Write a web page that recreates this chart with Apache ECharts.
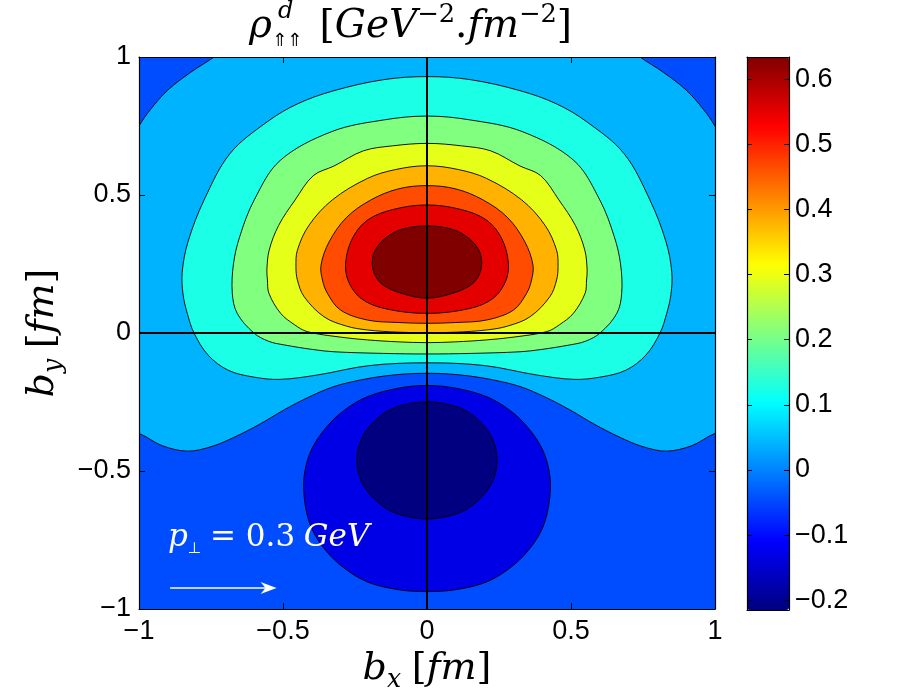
<!DOCTYPE html>
<html>
<head>
<meta charset="utf-8">
<script src="https://cdn.jsdelivr.net/npm/echarts@6/dist/echarts.min.js"></script>
<style>html,body{margin:0;padding:0;background:#fff;}#c{width:909px;height:700px;}</style>
</head>
<body>
<div id="c"></div>
<script>
// ---- data (symmetric in b_x; right half listed, x = 0 top -> x = 0 bottom) ----
const xRange = [-1, 1];
const yRange = [-1, 1];
const xTicks = [-1, -0.5, 0, 0.5, 1];
const yTicks = [-1, -0.5, 0, 0.5, 1];
const cbarRange = [-0.215, 0.634];
const cbarTicks = [-0.2, -0.1, 0, 0.1, 0.2, 0.3, 0.4, 0.5, 0.6];
// contour level values (band colour = lower level)
const levels = [-0.215, -0.130, -0.045, 0.040, 0.125, 0.210, 0.295, 0.380, 0.465, 0.550, 0.634];

const skyHalf = [[0,1.3],[0.4,1.22],[0.62,1.1],[0.74,1.0],[0.82,0.945],[0.9,0.88],[0.96,0.81],[1.0,0.75],[1.08,0.6],[1.15,0.35],[1.15,-0.32],[1.0,-0.364],[0.92,-0.408],[0.832,-0.428],[0.75,-0.412],[0.67,-0.378],[0.58,-0.33],[0.497,-0.279],[0.41,-0.232],[0.323,-0.194],[0.23,-0.17],[0.149,-0.156],[0.07,-0.148],[0,-0.146]];
const aquaHalf = [[0,0.929],[0.15,0.918],[0.323,0.878],[0.45,0.83],[0.555,0.765],[0.684,0.65],[0.774,0.482],[0.83,0.33],[0.85,0.22],[0.847,0.14],[0.832,0.07],[0.809,0],[0.76,-0.08],[0.69,-0.135],[0.6,-0.16],[0.51,-0.168],[0.38,-0.152],[0.2,-0.118],[0,-0.108]];
const greenHalf = [[0,0.786],[0.15,0.772],[0.33,0.73],[0.51,0.625],[0.6,0.482],[0.65,0.35],[0.672,0.25],[0.676,0.144],[0.659,0.071],[0.601,0],[0.55,-0.03],[0.497,-0.043],[0.395,-0.06],[0.323,-0.068],[0.15,-0.074],[0,-0.076]];
const yellowHalf = [[0,0.687],[0.12,0.678],[0.221,0.66],[0.323,0.605],[0.395,0.57],[0.458,0.482],[0.515,0.39],[0.548,0.3],[0.556,0.228],[0.554,0.192],[0.549,0.144],[0.508,0.071],[0.46,0.03],[0.416,0.005],[0.3,-0.015],[0.207,-0.025],[0.1,-0.032],[0,-0.035]];
const orangeHalf = [[0,0.606],[0.11,0.592],[0.207,0.56],[0.329,0.482],[0.41,0.39],[0.45,0.3],[0.455,0.24],[0.45,0.192],[0.427,0.132],[0.358,0.059],[0.28,0.025],[0.207,0.011],[0.1,0.003],[0,0.001]];
const orangeRedHalf = [[0,0.534],[0.1,0.522],[0.195,0.482],[0.28,0.418],[0.34,0.33],[0.368,0.246],[0.363,0.192],[0.346,0.144],[0.3,0.083],[0.207,0.047],[0.1,0.038],[0,0.035]];
const redHalf = [[0,0.464],[0.12,0.447],[0.207,0.409],[0.258,0.345],[0.282,0.26],[0.274,0.19],[0.23,0.126],[0.149,0.089],[0,0.071]];
const darkRedHalf = [[0,0.388],[0.09,0.375],[0.149,0.34],[0.18,0.3],[0.19,0.257],[0.182,0.213],[0.155,0.176],[0.095,0.146],[0,0.126]];
const midBlueHalf = [[0,-0.19],[0.1,-0.2],[0.21,-0.232],[0.29,-0.282],[0.35,-0.342],[0.4,-0.42],[0.424,-0.5],[0.428,-0.57],[0.418,-0.65],[0.395,-0.72],[0.35,-0.79],[0.29,-0.85],[0.207,-0.902],[0.1,-0.93],[0,-0.937]];
const navyHalf = [[0,-0.249],[0.1,-0.266],[0.155,-0.295],[0.207,-0.348],[0.235,-0.405],[0.243,-0.46],[0.235,-0.518],[0.207,-0.573],[0.155,-0.626],[0.1,-0.656],[0,-0.674]];
const arrowFrom = [-0.892, -0.924];
const arrowTo = [-0.55, -0.924];

// ---- build polygons ----
function fullLoop(half) {
  const left = half.slice(1, -1).reverse().map(p => [-p[0], p[1]]);
  return half.concat(left);
}
const pad = 0.3;
const frame = [[xRange[0]-pad, yRange[0]-pad],[xRange[1]+pad, yRange[0]-pad],[xRange[1]+pad, yRange[1]+pad],[xRange[0]-pad, yRange[1]+pad]];
const regions = [
  {poly: frame, level: levels[2], smooth: 0, stroke: false},
  {poly: fullLoop(skyHalf), level: levels[3]},
  {poly: fullLoop(aquaHalf), level: levels[4]},
  {poly: fullLoop(greenHalf), level: levels[5]},
  {poly: fullLoop(yellowHalf), level: levels[6]},
  {poly: fullLoop(orangeHalf), level: levels[7]},
  {poly: fullLoop(orangeRedHalf), level: levels[8]},
  {poly: fullLoop(redHalf), level: levels[9]},
  {poly: fullLoop(darkRedHalf), level: levels[10]},
  {poly: fullLoop(midBlueHalf), level: levels[1]},
  {poly: fullLoop(navyHalf), level: levels[0]}
];

const jet = ['#000080','#0000ff','#0080ff','#00ffff','#80ff80','#ffff00','#ff8000','#ff0000','#800000'];
const sansFont = 'Liberation Sans';
const serif = 'DejaVu Serif';
const fmt = v => (v === 0 ? '0' : String(v).replace('-', '\u2212'));

const mathRich = (size, color) => ({
  it: {fontFamily: serif, fontStyle: 'italic', fontSize: size, color: color, fill: color, lineHeight: size*1.25, verticalAlign: 'middle'},
  n: {fontFamily: serif, fontSize: size, color: color, fill: color, lineHeight: size*1.25, verticalAlign: 'middle'},
  sp: {fontFamily: serif, fontSize: size, color: color, fill: color, lineHeight: size*1.25, width: size*0.28},
  sp2: {fontFamily: serif, fontSize: size, color: color, fill: color, lineHeight: size*1.25, width: size*0.45},
  supn: {fontFamily: serif, fontSize: size*0.66, color: color, fill: color, lineHeight: size*0.62, verticalAlign: 'top'},
  sub: {fontFamily: serif, fontStyle: 'italic', fontSize: size*0.66, color: color, fill: color, lineHeight: size*0.45, verticalAlign: 'bottom'},
  subn: {fontFamily: 'DejaVu Sans', fontSize: size*0.5, color: color, fill: color, lineHeight: size*0.45, verticalAlign: 'bottom'},
  subs: {fontFamily: 'DejaVu Sans', fontSize: size*0.46, color: color, fill: color, lineHeight: size*0.5, verticalAlign: 'bottom'}
});

const axisLineStyle = {lineStyle: {color: '#000', width: 1.2}, onZero: false};
const inTick = {inside: true, length: 6, lineStyle: {color: '#000'}};
const tickLabel = {fontFamily: sansFont, fontSize: 27, color: '#000'};
const arrowHead = 'path://M5,0 L10,13 L5,9 L0,13 Z';

const chart = echarts.init(document.getElementById('c'), null, {renderer: 'canvas'});
const option = {
  animation: false,
  backgroundColor: '#fff',
  grid: [
    {left: 139, top: 57, width: 576, height: 552, show: false, containLabel: false, outerBoundsMode: 'none'},
    {left: 747, top: 57, width: 42, height: 553, show: false, containLabel: false, outerBoundsMode: 'none'}
  ],
  xAxis: [
    {gridIndex: 0, type: 'value', min: xRange[0], max: xRange[1], interval: 0.5, position: 'bottom', z: 10,
     axisLine: axisLineStyle, axisTick: inTick,
     axisLabel: Object.assign({formatter: fmt, margin: 9, customValues: xTicks}, tickLabel), splitLine: {show: false},
     name: '{it|b}{sub|x}{sp| }{n|[}{it|fm}{n|]}', nameLocation: 'middle', nameGap: 36,
     nameTextStyle: {rich: mathRich(38, '#000')}},
    {gridIndex: 0, type: 'value', min: xRange[0], max: xRange[1], interval: 0.5, position: 'top', z: 10,
     axisLine: axisLineStyle, axisTick: inTick, axisLabel: {show: false}, splitLine: {show: false}},
    {gridIndex: 1, type: 'value', min: 0, max: 1, position: 'bottom', z: 10,
     axisLine: axisLineStyle, axisTick: {show: false}, axisLabel: {show: false}, splitLine: {show: false}},
    {gridIndex: 1, type: 'value', min: 0, max: 1, position: 'top', z: 10,
     axisLine: axisLineStyle, axisTick: {show: false}, axisLabel: {show: false}, splitLine: {show: false}}
  ],
  yAxis: [
    {gridIndex: 0, type: 'value', min: yRange[0], max: yRange[1], interval: 0.5, position: 'left', z: 10,
     axisLine: axisLineStyle, axisTick: inTick,
     axisLabel: Object.assign({formatter: fmt, margin: 8, customValues: yTicks}, tickLabel), splitLine: {show: false},
     name: '{it|b}{sub|y}{sp| }{n|[}{it|fm}{n|]}', nameLocation: 'middle', nameGap: 72,
     nameTextStyle: {rich: mathRich(38, '#000')}},
    {gridIndex: 0, type: 'value', min: yRange[0], max: yRange[1], interval: 0.5, position: 'right', z: 10,
     axisLine: axisLineStyle, axisTick: inTick, axisLabel: {show: false}, splitLine: {show: false}},
    {gridIndex: 1, type: 'value', min: cbarRange[0], max: cbarRange[1], position: 'right', z: 10,
     axisLine: axisLineStyle,
     axisTick: {inside: true, length: 5, customValues: cbarTicks, lineStyle: {color: '#000'}},
     axisLabel: Object.assign({formatter: fmt, margin: 6, customValues: cbarTicks}, tickLabel), splitLine: {show: false}},
    {gridIndex: 1, type: 'value', min: cbarRange[0], max: cbarRange[1], position: 'left', z: 10,
     axisLine: axisLineStyle,
     axisTick: {inside: true, length: 5, customValues: cbarTicks, lineStyle: {color: '#000'}},
     axisLabel: {show: false}, splitLine: {show: false}}
  ],
  visualMap: {
    type: 'continuous', min: cbarRange[0], max: cbarRange[1], dimension: 1, seriesIndex: 0,
    calculable: false, orient: 'vertical', left: 747, top: 57, itemWidth: 42, itemHeight: 553,
    padding: 0, inRange: {color: jet}, text: null, z: 4
  },
  series: [
    {
      type: 'custom', xAxisIndex: 0, yAxisIndex: 0, clip: true, silent: true, z: 2,
      data: regions.map((r, i) => ({value: [i, r.level]})),
      renderItem: function (params, api) {
        const r = regions[params.dataIndex];
        const pts = r.poly.map(p => api.coord(p));
        return {
          type: 'polygon',
          shape: {points: pts, smooth: r.smooth === 0 ? 0 : 0.35},
          style: {fill: api.visual('color'), stroke: r.stroke === false ? null : '#000', lineWidth: 0.9}
        };
      }
    },
    {
      type: 'line', xAxisIndex: 0, yAxisIndex: 0, data: [], z: 5, silent: true,
      markLine: {
        silent: true, symbol: ['none', 'none'], animation: false,
        label: {show: false},
        data: [
          {xAxis: 0, lineStyle: {color: '#000', width: 2, type: 'solid'}},
          {yAxis: 0, lineStyle: {color: '#000', width: 2, type: 'solid'}},
          [
            {coord: arrowFrom, symbol: 'none', lineStyle: {color: '#fff', width: 1.5, type: 'solid'}},
            {coord: arrowTo, symbol: arrowHead, symbolSize: [12, 16]}
          ]
        ]
      }
    }
  ],
  graphic: [
    {type: 'text', left: 249, top: 2, z: 20,
     style: {text: '{it|ρ}{subs|⇑⇑}{sp2| }{n|[}{it|GeV}{supn|−2}{n|.}{it|fm}{supn|−2}{n|]}', rich: mathRich(39, '#000')}},
    {type: 'text', left: 278, top: 0, z: 20,
     style: {text: 'd', fontFamily: serif, fontStyle: 'italic', fontSize: 24, fill: '#000'}},
    {type: 'text', left: 168, top: 522, z: 20,
     style: {text: '{it|p}{subn|⊥}{sp| }{n|= 0.3}{sp| }{it|GeV}', rich: mathRich(31, '#fff')}}
  ]
};
chart.setOption(option);
</script>
</body>
</html>
